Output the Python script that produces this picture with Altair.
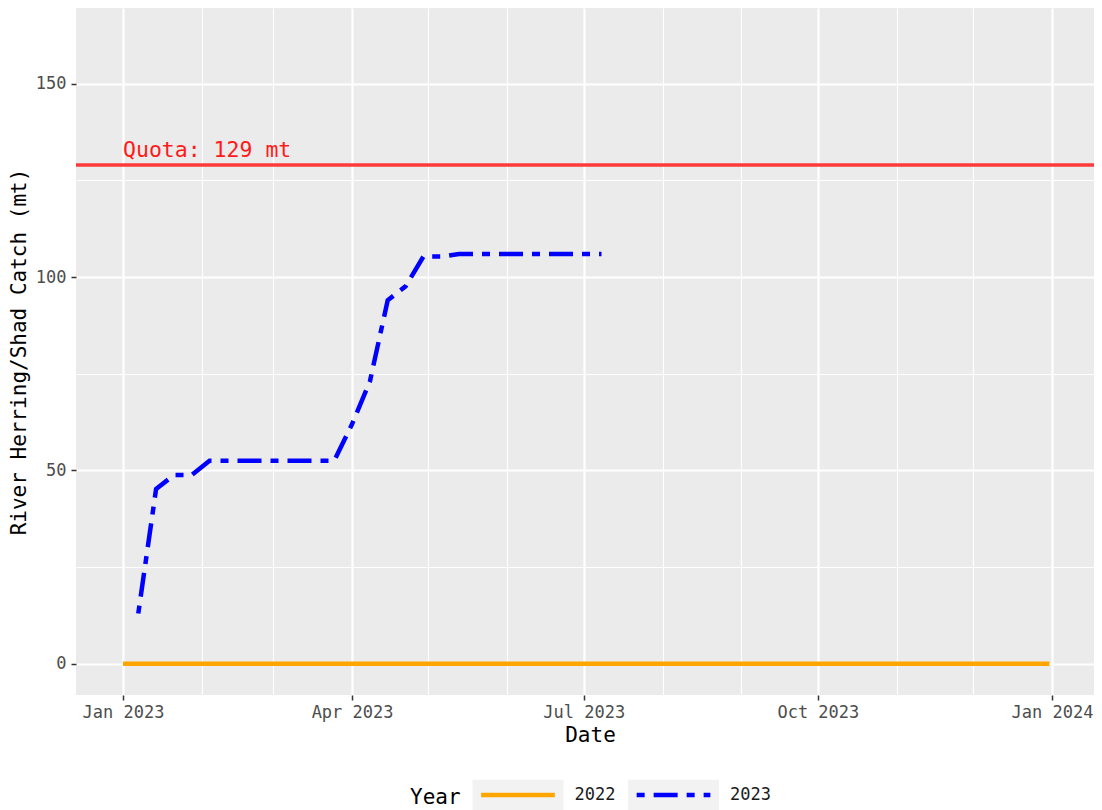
import altair as alt
import pandas as pd

FONT = "DejaVu Sans Mono"

# ---- data ----
dates_2023 = [
    "2023-01-07", "2023-01-14", "2023-01-21", "2023-01-28",
    "2023-02-04", "2023-02-11", "2023-02-18", "2023-02-25",
    "2023-03-04", "2023-03-11", "2023-03-18", "2023-03-25",
    "2023-04-01", "2023-04-08", "2023-04-15", "2023-04-22", "2023-04-29",
    "2023-05-06", "2023-05-13", "2023-05-20", "2023-05-27",
    "2023-06-03", "2023-06-10", "2023-06-17", "2023-06-24",
    "2023-07-01", "2023-07-08",
]
catch_2023 = [
    13.0, 45.2, 48.8, 48.8,
    52.5, 52.5, 52.5, 52.5,
    52.5, 52.5, 52.5, 52.5,
    62.0, 73.0, 94.0, 97.6, 105.3,
    105.3, 106.0, 106.0, 106.0,
    106.0, 106.0, 106.0, 106.0,
    106.0, 106.0,
]
dates_2022 = ["2023-01-01", "2023-12-31"]   # 2022 catch plotted on a common calendar
catch_2022 = [0.0, 0.0]

years = ["2022", "2023"]
year_colors = ["orange", "blue"]
year_dashes = [[1, 0], [8, 9, 24, 9]]

quota = 129
quota_label_date = "2023-01-01"

y_ticks = [0, 25, 50, 75, 100, 125, 150]
x_tick_months = [(2023, m) for m in range(1, 13)] + [(2024, 1)]

# ---- tables ----
lines_df = pd.DataFrame({
    "date": [d + "T00:00:00" for d in dates_2022 + dates_2023],
    "catch": catch_2022 + catch_2023,
    "Year": ["2022"] * len(dates_2022) + ["2023"] * len(dates_2023),
})
quota_df = pd.DataFrame({"catch": [quota]})
label_df = pd.DataFrame({
    "date": [quota_label_date + "T00:00:00"],
    "catch": [quota],
    "label": [f"Quota: {quota} mt"],
})
key_df = pd.DataFrame({"Key": years})

# ---- scales & axes ----
x_scale = alt.Scale(domain=[
    alt.DateTime(year=2022, month=12, date=13, hours=12, minutes=43),
    alt.DateTime(year=2024, month=1, date=17, hours=12, minutes=0),
])
y_scale = alt.Scale(domain=[-8.08, 169.6], nice=False, zero=False)

major_x = "month(datum.value) % 3 == 0"
x_axis = alt.Axis(
    values=[alt.DateTime(year=y, month=m, date=1) for (y, m) in x_tick_months],
    format="%b %Y",
    labelExpr=f"{major_x} ? datum.label : ''",
    gridWidth={"condition": {"test": major_x, "value": 2.2}, "value": 1.1},
    tickOpacity={"condition": {"test": major_x, "value": 1}, "value": 0},
    labelOverlap=False, labelFlush=False,
    labelPadding=4, titlePadding=4, titleX=514, titleAlign="center",
)
major_y = "datum.value % 50 == 0"
y_axis = alt.Axis(
    values=y_ticks,
    labelExpr=f"{major_y} ? datum.label : ''",
    gridWidth={"condition": {"test": major_y, "value": 2.2}, "value": 1.1},
    tickOpacity={"condition": {"test": major_y, "value": 1}, "value": 0},
    labelOverlap=False, labelFlush=False,
    labelPadding=5, titlePadding=6,
)

X = alt.X("date:T", scale=x_scale, axis=x_axis, title="Date")
Y = alt.Y("catch:Q", scale=y_scale, axis=y_axis, title="River Herring/Shad Catch (mt)")

legend_common = dict(
    orient="none", legendY=739, direction="horizontal",
    titleOrient="left", titleFont=FONT, titleFontSize=21,
    titleFontWeight="normal", titleColor="black", titlePadding=9,
    titleAnchor="end", titleBaseline="alphabetic",
    labelFont=FONT, labelFontSize=17, labelColor="#1A1A1A", labelOffset=8.5,
    symbolSize=8281, symbolStrokeWidth=4.5, padding=0,
)

lines_legend = alt.Legend(
    title="Year", symbolType="M-0.81,0H0.81", zindex=1,
    legendX=334, columnPadding=9.5, **legend_common,
)
# grey key backgrounds behind the legend lines (blank title and labels)
key_legend = alt.Legend(
    title="    ", labelExpr="''",
    symbolType="M-1,-0.34H1V0.34H-1Z", zindex=0, symbolStrokeColor="transparent",
    symbolOpacity=1, legendX=385, columnPadding=43.5, **legend_common,
)

lines = alt.Chart(lines_df).mark_line(strokeWidth=4.5, clip=True).encode(
    x=X, y=Y,
    color=alt.Color("Year:N", scale=alt.Scale(domain=years, range=year_colors), legend=lines_legend),
    strokeDash=alt.StrokeDash("Year:N", scale=alt.Scale(domain=years, range=year_dashes), legend=lines_legend),
)

keys = alt.Chart(key_df).mark_point(opacity=0, filled=True).encode(
    fill=alt.Fill("Key:N", scale=alt.Scale(range=["#F2F2F2", "#F2F2F2"]), legend=key_legend),
)

quota_rule = alt.Chart(quota_df).mark_rule(color="#FF3A3A", strokeWidth=3.5).encode(y=Y)

quota_text = alt.Chart(label_df).mark_text(
    align="left", baseline="alphabetic", dy=-8, font=FONT, fontSize=21.5, color="#FF1A1A"
).encode(x=X, y=Y, text="label:N")

chart = alt.layer(keys, quota_rule, lines, quota_text).properties(
    width=1018, height=687,
    autosize=alt.AutoSizeParams(type="none"),
    padding={"left": 68, "top": 0, "right": 0, "bottom": 117},
    background="white",
).configure_view(
    fill="#EBEBEB", stroke=None,
).configure_axis(
    domain=False, gridColor="white", tickColor="#333333", tickWidth=1.5, tickSize=5,
    labelFont=FONT, labelFontSize=17, labelColor="#4D4D4D",
    titleFont=FONT, titleFontSize=21, titleColor="black", titleFontWeight="normal",
)

chart.save("out.html", embed_options={"renderer": "svg", "actions": False})
